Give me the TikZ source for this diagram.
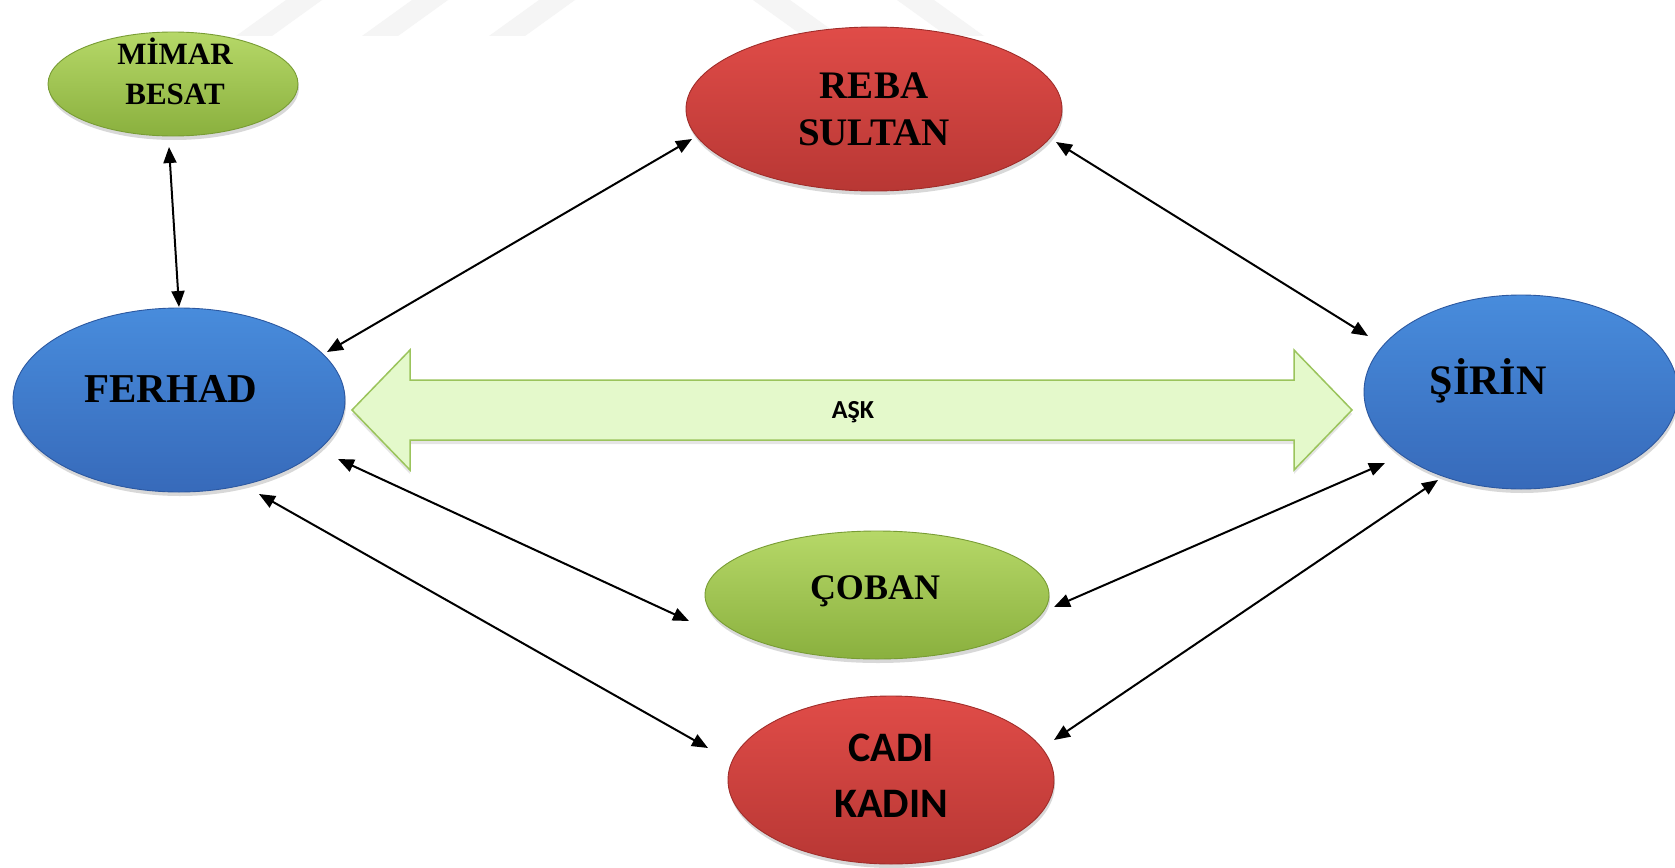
\documentclass[tikz,border=0pt]{standalone}
\usepackage{fontspec}
\setmainfont{Liberation Serif}
\newfontfamily\calibrifont{Carlito}
\usetikzlibrary{calc,shadows,arrows.meta,shapes.geometric}

\definecolor{redtop}{RGB}{224,76,72}
\definecolor{redbot}{RGB}{184,55,52}
\definecolor{redrim}{RGB}{160,45,42}
\definecolor{greentop}{RGB}{182,216,104}
\definecolor{greenbot}{RGB}{138,176,62}
\definecolor{greenrim}{RGB}{120,156,52}
\definecolor{bluetop}{RGB}{72,140,220}
\definecolor{bluebot}{RGB}{55,106,186}
\definecolor{bluerim}{RGB}{44,88,160}
\definecolor{askfill}{RGB}{228,249,203}
\definecolor{askline}{RGB}{155,196,92}

\tikzset{
  wm/.style={fill=black!4},
  bubble/.style={ellipse, inner sep=0pt, line width=0.9pt,
    drop shadow={shadow xshift=1pt, shadow yshift=-4pt, opacity=0.3}},
  redb/.style={bubble, top color=redtop, bottom color=redbot, draw=redrim},
  greenb/.style={bubble, top color=greentop, bottom color=greenbot, draw=greenrim},
  blueb/.style={bubble, top color=bluetop, bottom color=bluebot, draw=bluerim},
  link/.style={{Triangle[length=16pt,width=13pt]}-{Triangle[length=16pt,width=13pt]},
    line width=2pt, draw=black},
  askarrow/.style={fill=askfill, draw=askline, line width=1.5pt, line join=miter,
    drop shadow={shadow xshift=0pt, shadow yshift=-4pt, opacity=0.2}}
}

\begin{document}
\begin{tikzpicture}[x=1pt,y=-1pt]
\useasboundingbox (0,0) rectangle (1675,867);
\fill[white] (0,0) rectangle (1675,867);

% faint stripes along the top edge
\fill[wm] (286,0) -- (322,0) -- (272,36) -- (236,36) -- cycle;
\fill[wm] (412,0) -- (448,0) -- (398,36) -- (362,36) -- cycle;
\fill[wm] (539,0) -- (575,0) -- (525,36) -- (489,36) -- cycle;
\fill[wm] (753,0) -- (790,0) -- (840,36) -- (803,36) -- cycle;
\fill[wm] (897,0) -- (934,0) -- (984,36) -- (947,36) -- cycle;

% the love arrow between the two lovers
\filldraw[askarrow] (352,410) -- (410,350) -- (410,380) -- (1294,380) -- (1294,350)
  -- (1352,410) -- (1294,470) -- (1294,440) -- (410,440) -- (410,470) -- cycle;
\node[font=\calibrifont\bfseries\fontsize{26}{30}\selectfont, anchor=base] (ask) at (853,418) {AŞK};

% characters
\node[greenb, minimum width=250pt, minimum height=104pt,
  label={[font=\bfseries\fontsize{31}{40}\selectfont, align=center, xshift=2pt, yshift=13pt]center:MİMAR\\BESAT}]
  (mimar) at (173,84) {};
\node[redb, minimum width=376pt, minimum height=164pt,
  label={[font=\bfseries\fontsize{39}{47}\selectfont, align=center]center:REBA\\SULTAN}]
  (reba) at (874,109) {};
\node[blueb, minimum width=332pt, minimum height=184pt,
  label={[font=\bfseries\fontsize{41}{49}\selectfont, xshift=-8pt, yshift=11pt]center:FERHAD}]
  (ferhad) at (179,400) {};
\node[blueb, minimum width=314pt, minimum height=194pt,
  label={[font=\bfseries\fontsize{42}{49}\selectfont, xshift=-33pt, yshift=11pt]center:ŞİRİN}]
  (sirin) at (1521,392) {};
\node[greenb, minimum width=344pt, minimum height=128pt,
  label={[font=\bfseries\fontsize{36}{43}\selectfont, xshift=-2pt, yshift=4pt]center:ÇOBAN}]
  (coban) at (877,595) {};
\node[redb, minimum width=326pt, minimum height=168pt,
  label={[font=\calibrifont\bfseries\fontsize{42}{56}\selectfont, align=center, yshift=4pt]center:CADI\\KADIN}]
  (cadi) at (891,780) {};

% relations
\draw[link] ($(mimar)+(-4,63)$) -- ($(ferhad)+(0,-93)$);
\draw[link] ($(ferhad)+(148,-48)$) -- ($(reba)+(-182,30)$);
\draw[link] ($(reba)+(182,33)$) -- ($(sirin)+(-153,-56)$);
\draw[link] ($(ferhad)+(159,59)$) -- ($(coban)+(-188,26)$);
\draw[link] ($(ferhad)+(80,94)$) -- ($(cadi)+(-183,-32)$);
\draw[link] ($(coban)+(177,12)$) -- ($(sirin)+(-136,71)$);
\draw[link] ($(cadi)+(163,-40)$) -- ($(sirin)+(-83,88)$);
\end{tikzpicture}
\end{document}
